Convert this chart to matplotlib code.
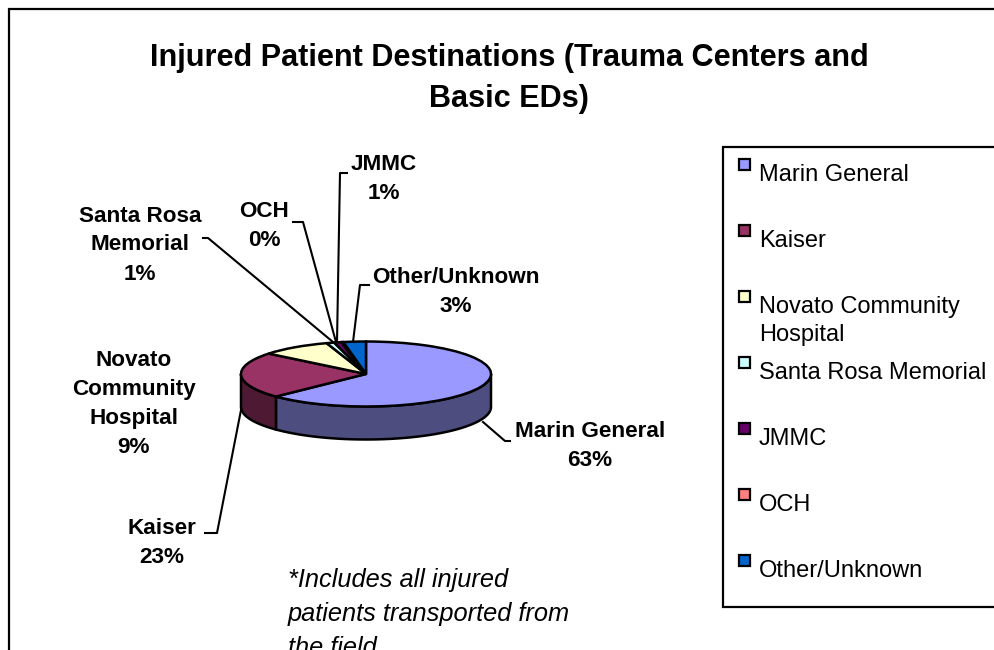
import numpy as np
import matplotlib
matplotlib.use('Agg')
import matplotlib.pyplot as plt
from matplotlib.patches import Rectangle

plt.rcParams['font.family'] = ['Liberation Sans', 'DejaVu Sans']

# data
names = ['Marin General', 'Kaiser', 'Novato Community Hospital', 'Santa Rosa Memorial',
         'JMMC', 'OCH', 'Other/Unknown']
values = [62.8, 23.0, 9.1, 1.0, 0.9, 0.3, 2.9]
colors = ['#9999FF', '#993366', '#FFFFCC', '#CCFFFF', '#660066', '#FF8080', '#0066CC']
wall_colors = ['#4D4D80', '#4D1933', '#808066', '#668080', '#330033', '#804040', '#003366']

legend_names = ['Marin General', 'Kaiser', 'Novato Community\nHospital', 'Santa Rosa Memorial',
                'JMMC', 'OCH', 'Other/Unknown']
pie_names = ['Marin General', 'Kaiser', 'Novato\nCommunity\nHospital', 'Santa Rosa\nMemorial',
             'JMMC', 'OCH', 'Other/Unknown']
title = 'Injured Patient Destinations (Trauma Centers and\nBasic EDs)'
note = '*Includes all injured\npatients transported from\nthe field'

# where the data labels sit, pixels (center x, center y of the block)
label_pos = [(590, 446), (162, 543), (134, 404), (140, 245), (384, 179), (264, 226), (456, 292)]
# leader lines, pixels
leaders = {
    0: [(483, 422), (505, 441), (510, 441)],
    1: [(241, 410), (217, 533), (205, 533)],
    3: [(333, 342), (208, 238), (203, 238)],
    4: [(337, 342), (340, 173), (347, 173)],
    5: [(336, 342), (303, 222), (293, 222)],
    6: [(353, 342), (360, 285), (369, 285)],
}
legend_y = [165, 231, 297, 363, 429, 495, 561]

W, H = 995, 650
cx, cy, rx, ry, depth = 366, 374, 125, 32.5, 33

fig = plt.figure(figsize=(W / 100, H / 100), dpi=100, facecolor='white')

# pie axes: 1 unit = rx px across, ry px up, so the circle comes out flat
ax = fig.add_axes([0, 0, 1, 1])
ax.pie(values, colors=colors, startangle=90, counterclock=False,
       wedgeprops={'edgecolor': 'black', 'linewidth': 1.8, 'zorder': 3})
ax.set_aspect('auto')
ax.set_xlim(-cx / rx, (W - cx) / rx)
ax.set_ylim((cy - H) / ry, cy / ry)
ax.axis('off')

# side wall, only the part of each slice facing front
d = depth / ry
ends = 90 - np.cumsum(values) * 3.6
starts = np.r_[90, ends[:-1]]
for a0, a1, c in zip(starts, ends, wall_colors):
    lo, hi = a1 % 360, (a1 % 360) + (a0 - a1)
    lo2, hi2 = max(lo, 180), min(hi, 360)
    if hi2 <= lo2:
        continue
    th = np.radians(np.linspace(lo2, hi2, 80))
    xs = np.r_[np.cos(th), np.cos(th)[::-1]]
    ys = np.r_[np.sin(th), np.sin(th)[::-1] - d]
    ax.fill(xs, ys, facecolor=c, edgecolor='black', linewidth=1.8, zorder=2)

# overlay in pixels for frame, labels, legend
ov = fig.add_axes([0, 0, 1, 1])
ov.patch.set_alpha(0)
ov.set_xlim(0, W)
ov.set_ylim(H, 0)
ov.axis('off')

ov.plot([9, 9, W], [H, 9, 9], color='black', lw=1.6, solid_joinstyle='miter')
ov.plot([W, 723, 723, W], [147, 147, 607, 607], color='black', lw=1.6, solid_joinstyle='miter')

ov.text(509, 78.5, title, ha='center', va='center', fontsize=22.1, fontweight='bold',
        linespacing=1.45)

for i, pts in leaders.items():
    xs, ys = zip(*pts)
    ov.plot(xs, ys, color='black', lw=1.5)

for n, v, (x, y) in zip(pie_names, values, label_pos):
    ov.text(x, y, '%s\n%.0f%%' % (n, v), ha='center', va='center', fontsize=16.2,
            fontweight='bold', linespacing=1.5)

for n, c, y in zip(legend_names, colors, legend_y):
    ov.add_patch(Rectangle((739, y - 6), 11, 11, facecolor=c, edgecolor='black', lw=1.6))
    if '\n' in n:
        ov.text(759, y + 24, n, ha='left', va='center', fontsize=17, linespacing=1.35)
    else:
        ov.text(759, y + 10, n, ha='left', va='center', fontsize=17)

# runs off the bottom of the figure, same as the original
ov.text(288, 568, note, ha='left', va='top', fontsize=18.3, style='italic', linespacing=1.52)

fig.savefig('out.png', dpi=100)
